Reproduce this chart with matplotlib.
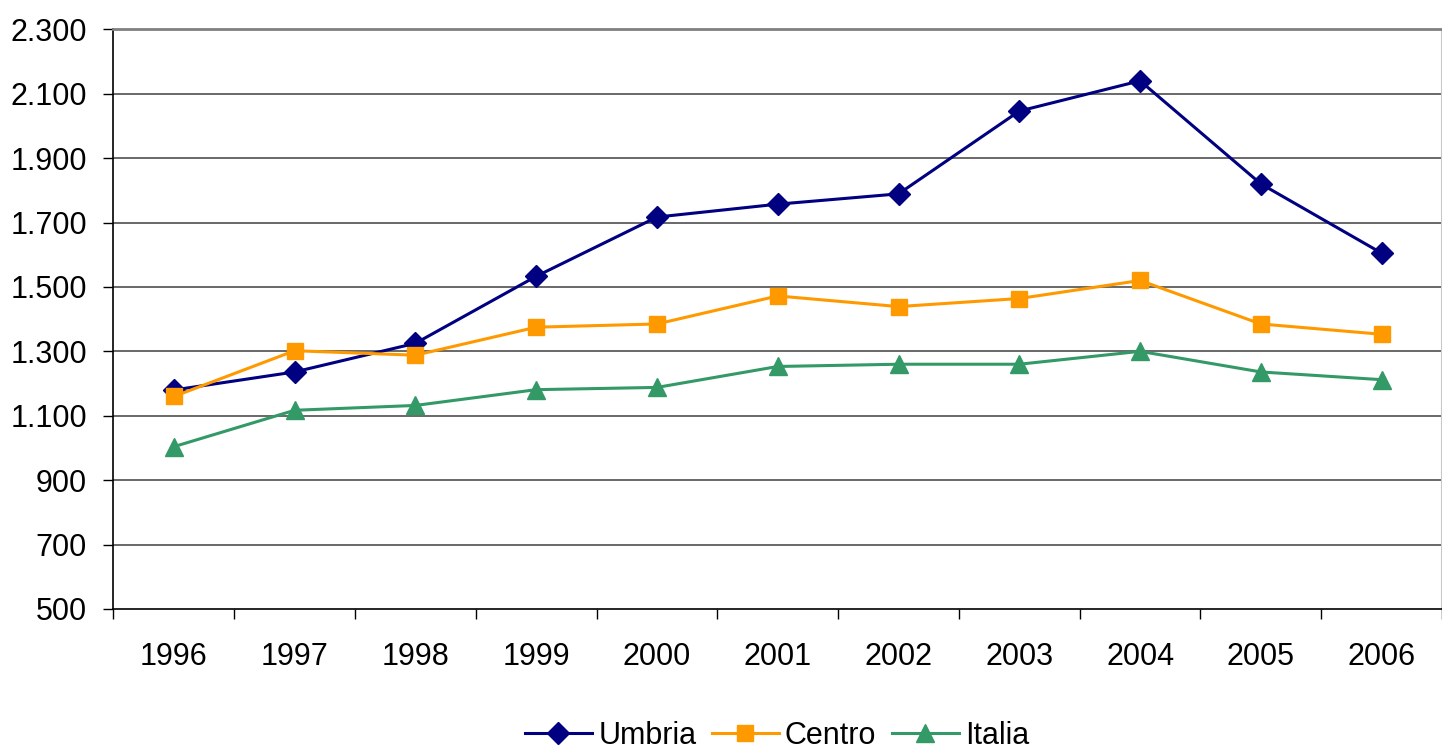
import matplotlib
matplotlib.use("Agg")
import matplotlib.pyplot as plt
from matplotlib.ticker import FixedLocator, FuncFormatter

plt.rcParams['font.family'] = ['Liberation Sans', 'DejaVu Sans']

anni = ['1996', '1997', '1998', '1999', '2000', '2001', '2002', '2003', '2004', '2005', '2006']
umbria = [1180, 1236, 1325, 1533, 1717, 1757, 1789, 2046, 2140, 1820, 1605]
centro = [1160, 1302, 1288, 1375, 1385, 1472, 1439, 1464, 1520, 1385, 1353]
italia = [1004, 1117, 1132, 1181, 1188, 1253, 1260, 1260, 1300, 1236, 1212]
y_ticks = [500, 700, 900, 1100, 1300, 1500, 1700, 1900, 2100, 2300]

fig = plt.figure(figsize=(14.42, 7.55), dpi=100)
ax = fig.add_axes([0.0787, 0.1934, 0.9213, 0.7678])

x = list(range(len(anni)))
ax.plot(x, umbria, color='#000080', lw=2.2, marker='D', ms=11, label='Umbria', zorder=3)
ax.plot(x, centro, color='#FF9900', lw=2.2, marker='s', ms=11, label='Centro', zorder=3)
ax.plot(x, italia, color='#339966', lw=2.2, marker='^', ms=13, label='Italia', zorder=3)

ax.set_xlim(-0.5, len(anni) - 0.5)
ax.set_ylim(500, 2300)

# griglia orizzontale
for v in y_ticks[1:]:
    ax.axhline(v, color='#404040', lw=1.1, zorder=1)

ax.set_yticks(y_ticks)
ax.yaxis.set_major_formatter(FuncFormatter(lambda v, p: f"{int(v):,}".replace(",", ".")))
ax.tick_params(axis='y', direction='out', length=7, width=1, pad=12, labelsize=22, colors='black')

# tacche tra le categorie, etichette al centro
ax.xaxis.set_major_locator(FixedLocator([i - 0.5 for i in range(len(anni) + 1)]))
ax.xaxis.set_minor_locator(FixedLocator(x))
ax.set_xticklabels([], minor=False)
ax.set_xticklabels(anni, minor=True)
ax.tick_params(axis='x', which='major', direction='out', length=7, width=1)
ax.tick_params(axis='x', which='minor', length=0, pad=24, labelsize=22)

ax.spines['left'].set_color('black')
ax.spines['bottom'].set_color('black')
ax.spines['left'].set_linewidth(1.2)
ax.spines['bottom'].set_linewidth(1.2)
ax.spines['top'].set_color('#808080')
ax.spines['top'].set_linewidth(2)
ax.spines['right'].set_color('#c8c8c8')
ax.spines['right'].set_linewidth(1.5)

fig.legend(loc='center', bbox_to_anchor=(777 / 1442, 1 - 736 / 755), ncol=3, frameon=False,
           fontsize=22, handlelength=2.2, handletextpad=0.2, columnspacing=0.5,
           borderpad=0, borderaxespad=0)

fig.savefig('out.png', dpi=100)
